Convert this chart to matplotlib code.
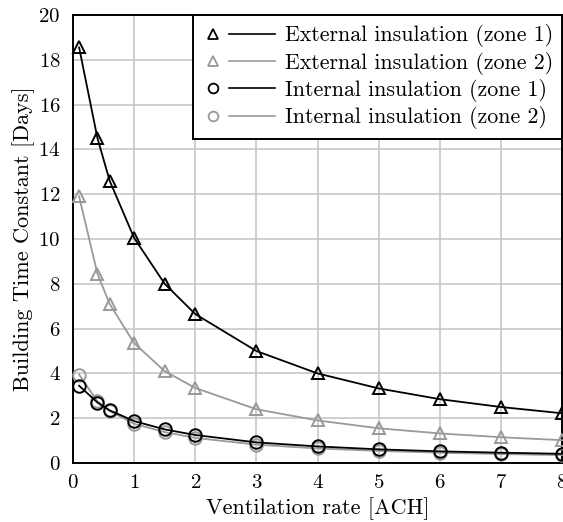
import numpy as np
import matplotlib.pyplot as plt
from matplotlib.lines import Line2D
from matplotlib.legend_handler import HandlerBase

plt.rcParams['font.family'] = 'cmr10'
plt.rcParams['mathtext.fontset'] = 'cm'
plt.rcParams['axes.formatter.use_mathtext'] = True

ach = [0.1, 0.4, 0.6, 1, 1.5, 2, 3, 4, 5, 6, 7, 8]
ext_z1 = [18.55, 14.5, 12.6, 10.05, 8.0, 6.65, 5.0, 4.0, 3.33, 2.85, 2.5, 2.22]
ext_z2 = [11.9, 8.45, 7.1, 5.35, 4.1, 3.35, 2.4, 1.9, 1.55, 1.32, 1.15, 1.02]
int_z1 = [3.45, 2.7, 2.35, 1.87, 1.5, 1.25, 0.92, 0.74, 0.61, 0.52, 0.46, 0.41]
int_z2 = [3.95, 2.75, 2.32, 1.75, 1.38, 1.12, 0.82, 0.65, 0.54, 0.46, 0.4, 0.35]
labels = ['External insulation (zone 1)', 'External insulation (zone 2)',
          'Internal insulation (zone 1)', 'Internal insulation (zone 2)']

black = 'black'
grey = '#999999'


# marker on the left, short line on the right (like the pgfplots legend)
class MarkerLine(HandlerBase):
    def create_artists(self, legend, orig_handle, xdescent, ydescent,
                       width, height, fontsize, trans):
        c, m = orig_handle
        y = height / 2 - ydescent
        x0 = -xdescent
        mk = Line2D([x0 + 7.5], [y], ls='none', marker=m, ms=7, mfc='none',
                    mec=c, mew=1.3, transform=trans)
        ln = Line2D([x0 + 19, x0 + width], [y, y], color=c, lw=1.2,
                    transform=trans)
        return [mk, ln]


fig = plt.figure(figsize=(5.63, 5.22), dpi=100)
ax = fig.add_axes([73/563, 1-463/522, (562-73)/563, (463-15)/522])

series = [(ext_z1, black, '^'), (ext_z2, grey, '^'),
          (int_z2, grey, 'o'), (int_z1, black, 'o')]
for y, c, m in series:
    ax.plot(ach, y, color=c, lw=1.3, marker=m, ms=9, mfc='none', mec=c, mew=1.4,
            clip_on=False, zorder=3)

ax.set_xlim(0, 8)
ax.set_ylim(0, 20)
ax.set_xticks(range(0, 9))
ax.set_yticks(range(0, 21, 2))
ax.grid(True, color='#c8c8c8', lw=1.2)
ax.set_axisbelow(True)
ax.tick_params(length=0, labelsize=15, pad=9)
ax.tick_params(axis='x', pad=8)
for s in ax.spines.values():
    s.set_linewidth(1.4)
ax.set_xlabel('Ventilation rate [ACH]', fontsize=16, labelpad=4)
ax.set_ylabel('Building Time Constant [Days]', fontsize=16, labelpad=2)

handles = [(black, '^'), (grey, '^'), (black, 'o'), (grey, 'o')]
leg = ax.legend(handles, labels, handler_map={tuple: MarkerLine()},
                loc='upper right', fontsize=15.8, frameon=True, fancybox=False,
                framealpha=1, edgecolor='black', borderaxespad=0,
                handlelength=3.3, handletextpad=0.45, labelspacing=0.2,
                borderpad=0.42)
leg.get_frame().set_linewidth(1.4)

fig.savefig('out.png', dpi=100)
